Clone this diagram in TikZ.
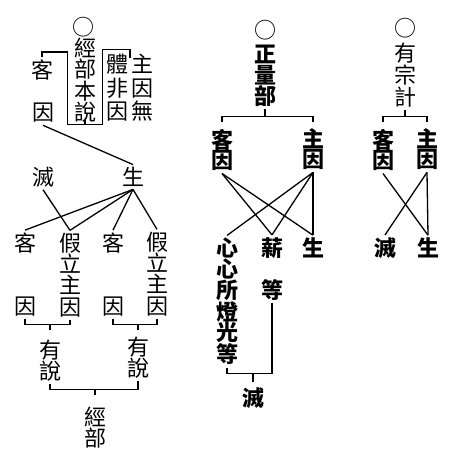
\documentclass[tikz,border=0pt]{standalone}
\usepackage{fontspec}
\newfontfamily\cjk{Noto Sans CJK TC}
\usetikzlibrary{positioning}

\begin{document}
\begin{tikzpicture}[x=1pt, y=-1pt, node distance=6pt, line width=1.3pt]
    % Styles
    \tikzstyle{zi} = [inner sep=2pt, align=center, font=\cjk\fontsize{22}{21.3}\selectfont]
    \tikzstyle{cu} = [zi, font=\cjk\bfseries\fontsize{22}{20.5}\selectfont]

    \useasboundingbox (0,0) rectangle (464,466);

    % 經部
    \node [zi] (o1) at (83,27) {○};
    \node [zi, inner xsep=6pt] (jb) at (85,80) {經\\部\\本\\說};
    \node [zi] (ke) at (42,70) {客};
    \node [zi] (ky) at (43,113) {因};
    \node [zi, font=\cjk\fontsize{22}{23.5}\selectfont] (wu) at (130,88) {體\hspace{3pt}主\\非\hspace{3pt}因\\因\hspace{3pt}無};
    \node [zi] (mie) at (43,177) {滅};
    \node [zi] (sheng) at (133,177) {生};

    \node [zi] (ke1) at (25,243) {客};
    \node [zi] (yin1) at (25,307) {因};
    \node [zi] (jia1) at (70,275) {假\\立\\主\\因};
    \node [zi] (ke2) at (113,243) {客};
    \node [zi] (yin2) at (113,307) {因};
    \node [zi] (jia2) at (157,274) {假\\立\\主\\因};
    \node [zi] (ys1) at (50,361) {有\\說};
    \node [zi] (ys2) at (138,358) {有\\說};
    \node [zi] (jb2) at (95,427.5) {經\\部};

    \draw (ke.north) -- ++(0,-5) -| (jb.south west) -- (jb.south east) |- ([yshift=2pt]wu.north) -- ([yshift=-6pt]wu.north);
    \draw (jb.south) -- ++(0,-5);
    \draw (ky.south) -- (sheng.north);

    \draw (sheng.south) -- (ke1.north);
    \draw (sheng.south) -- (jia1.north);
    \draw (sheng.south) -- (ke2.north);
    \draw (sheng.south) -- (jia2.north);
    \draw (mie.south) -- (jia1.north);

    \coordinate [below=5pt of yin1.south] (b1);
    \draw (yin1.south) -- (b1) -| (jia1.south);
    \draw (b1 -| ys1) -- ++(0,6);
    \coordinate [below=5pt of yin2.south] (b2);
    \draw (yin2.south) -- (b2) -| (jia2.south);
    \draw (b2 -| ys2) -- ++(0,6);
    \coordinate [below=5pt of ys1.south] (b3);
    \draw (ys1.south) -- (b3) -| (ys2.south);
    \draw (b3 -| jb2) -- ++(0,6);

    % 正量部
    \node [zi] (o2) at (265,30) {○};
    \node [cu, font=\cjk\bfseries\fontsize{22}{21}\selectfont] (zlb) at (265,76) {正\\量\\部};
    \node [cu] (kg) at (222,150) {客\\因};
    \node [cu] (zg) at (313,149) {主\\因};
    \node [cu, font=\cjk\bfseries\fontsize{22}{20.6}\selectfont] (xx) at (227,301.5) {心\\心\\所\\燈\\光\\等};
    \node [cu] (xin) at (272,248) {薪};
    \node [cu] (deng) at (272,290) {等};
    \node [cu] (sh2) at (313,248) {生};
    \node [cu] (mie2) at (253,398) {滅};

    \coordinate [above=10pt of kg.north] (t2);
    \draw ([yshift=4pt]kg.north) -- (t2) -| ([yshift=4pt]zg.north);
    \draw (t2 -| zlb) -- (zlb.south);

    \draw (kg.south) -- (xin.north);
    \draw (kg.south) -- (sh2.north);
    \draw (zg.south) -- (xx.north);
    \draw (zg.south) -- (xin.north);
    \draw (zg.south) -- (sh2.north);

    \coordinate [below=6pt of xx.south] (b4);
    \draw (deng.south) |- (b4) -- (xx.south);
    \draw (b4 -| mie2) -- ++(0,8);

    % 有宗
    \node [zi] (o3) at (405,28) {○};
    \node [zi, font=\cjk\fontsize{22}{22}\selectfont] (yzj) at (405,75) {有\\宗\\計};
    \node [cu] (kg3) at (383,150) {客\\因};
    \node [cu] (zg3) at (427,149) {主\\因};
    \node [cu] (mie3) at (385,248) {滅};
    \node [cu] (sh3) at (428,248) {生};

    \coordinate [above=10pt of kg3.north] (t3);
    \draw ([yshift=4pt]kg3.north) -- (t3) -| ([yshift=4pt]zg3.north);
    \draw (t3 -| yzj) -- (yzj.south);

    \draw (kg3.south) -- (sh3.north);
    \draw (zg3.south) -- (mie3.north);
    \draw (zg3.south) -- (sh3.north);
\end{tikzpicture}
\end{document}
